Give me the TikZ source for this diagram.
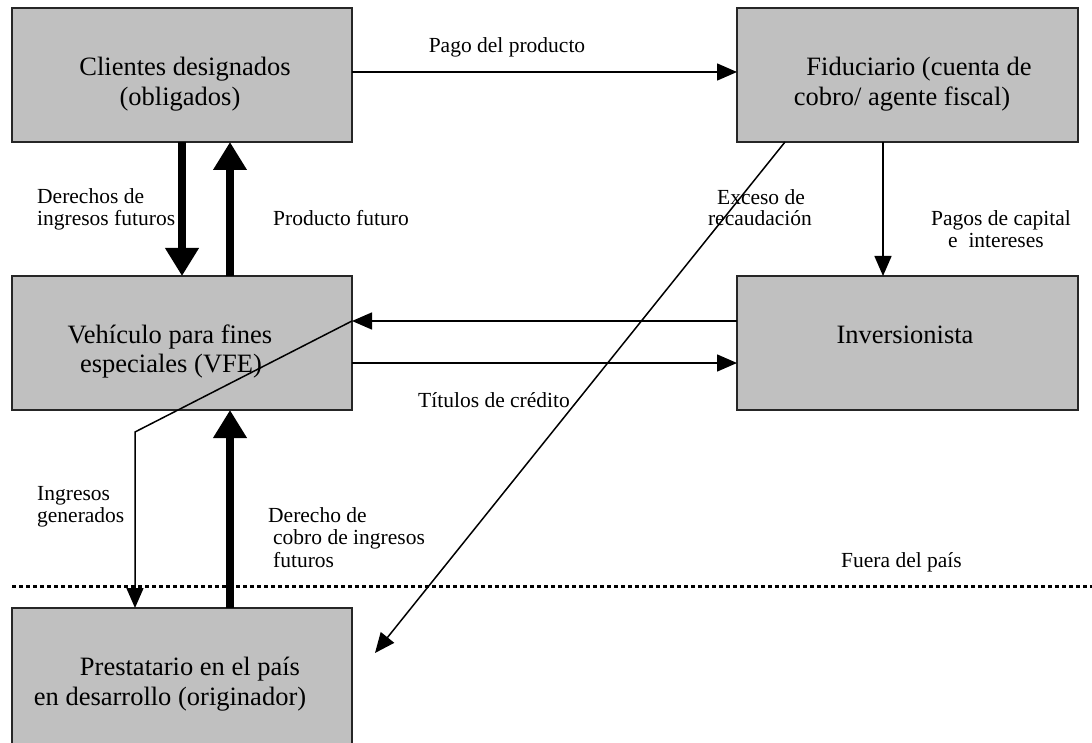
\documentclass[tikz,border=0pt]{standalone}
\usepackage{fontspec}
\setmainfont{Liberation Serif}
\usetikzlibrary{arrows.meta,calc}
\begin{document}
\begin{tikzpicture}[x=1pt,y=-1pt,
  box/.style={draw=black!85,line width=1.4pt,fill=boxgray,minimum width=340pt,minimum height=134pt,inner sep=0pt,outer sep=0pt},
  btxt/.style={font=\fontsize{26.5}{31}\selectfont,anchor=base,inner sep=0pt},
  lbl/.style={font=\fontsize{21.5}{23}\selectfont,anchor=base west,inner sep=0pt},
  thin/.style={line width=1.5pt,-{Triangle[length=20pt,width=17pt]}},
  thick/.style={line width=8pt,-{Triangle[length=28pt,width=32pt]}},
  sep/.style={line width=3pt,dash pattern=on 4pt off 3pt}
]
\definecolor{boxgray}{RGB}{192,192,192}
\useasboundingbox (0,0) rectangle (1092,743);
\clip (0,0) rectangle (1092,743);

% boxes
\node[box] (cli) at (182,75) {};
\node[box,minimum width=341pt] (fid) at (907.5,75) {};
\node[box] (vfe) at (182,343) {};
\node[box,minimum width=341pt] (inv) at (907.5,343) {};
\node[box,minimum height=152pt] (pre) at (182,684) {};

% box texts
\node[btxt] (cli1) at (185,76) {Clientes designados};
\node[btxt] (cli2) at (180,106) {(obligados)};
\node[btxt] (fid1) at (919,76) {Fiduciario (cuenta de};
\node[btxt] (fid2) at (902,106) {cobro/ agente fiscal)};
\node[btxt] (vfe1) at (170,343) {Vehículo para fines};
\node[btxt] (vfe2) at (171,372) {especiales (VFE)};
\node[btxt] (inv1) at (905,343) {Inversionista};
\node[btxt] (pre1) at (190,675) {Prestatario en el país};
\node[btxt] (pre2) at (170,705) {en desarrollo (originador)};

% separator
\coordinate (sepL) at (12,586);
\coordinate (sepR) at (1092,586);
\draw[sep] (sepL) -- (sepR);

% connectors
\draw[thin] (cli.east |- 0,72) -- (fid.west |- 0,72);
\draw[thick] (cli.south) -- (vfe.north);
\draw[thick] (230,0 |- vfe.north) -- (230,0 |- cli.south);
\draw[thin] (883,0 |- fid.south) -- (883,0 |- inv.north);
\coordinate (exTip) at (375,653);
\draw[thin] (785,0 |- fid.south) -- (exTip);
\draw[thin] (inv.west |- 0,321) -- (vfe.east |- 0,321);
\draw[thin] (vfe.east |- 0,363) -- (inv.west |- 0,363);
\coordinate (bend) at (135,432);
\draw[thin] (vfe.east |- 0,321) -- (bend) -- (135,0 |- pre.north);
\draw[thick] (230,0 |- pre.north) -- (230,0 |- vfe.south);

% labels
\node[lbl,anchor=base] (l1) at (507,53) {Pago del producto};
\node[lbl] (l2a) at (37,204) {Derechos de};
\node[lbl] (l2b) at (37,226) {ingresos futuros};
\node[lbl] (l3) at (273,226) {Producto futuro};
\node[lbl,anchor=base] (l4a) at (761,205) {Exceso de};
\node[lbl,anchor=base] (l4b) at (760,226) {recaudación};
\node[lbl] (l5a) at (931,226) {Pagos de capital};
\node[lbl] (l5b) at (948,248) {e\ \ intereses};
\node[lbl] (l6) at (418,407) {Títulos de crédito};
\node[lbl] (l7a) at (37,500) {Ingresos};
\node[lbl] (l7b) at (37,522) {generados};
\node[lbl] (l8a) at (268,522) {Derecho de};
\node[lbl] (l8b) at (273,544) {cobro de ingresos};
\node[lbl] (l8c) at (273,567) {futuros};
\node[lbl] (l9) at (841,567) {Fuera del país};
\end{tikzpicture}
\end{document}
